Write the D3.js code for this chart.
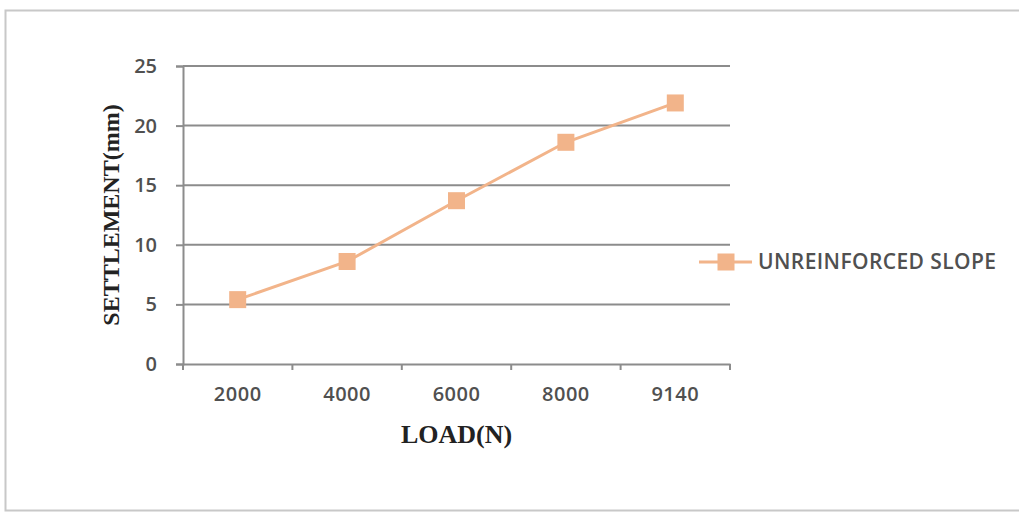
<!DOCTYPE html>
<html>
<head>
<meta charset="utf-8">
<script src="https://cdn.jsdelivr.net/npm/d3@7"></script>
<style>
  html, body { margin: 0; padding: 0; background: #fff; }
  svg { display: block; }
</style>
</head>
<body>
<svg id="chart" width="1019" height="513"></svg>
<script>
// Load steps (N) and measured settlement (mm)
const loads = ["2000", "4000", "6000", "8000", "9140"];
const settlement = [5.4, 8.6, 13.7, 18.6, 21.9];
const yTicks = [0, 5, 10, 15, 20, 25];
const seriesName = "UNREINFORCED SLOPE";

const svg = d3.select("#chart");
const W = 1019, H = 513;
const plot = { left: 183, right: 730, top: 66, bottom: 364 };
const lineColor = "#f2b48a";
const gridColor = "#8c8c8c";
const labelFont = "'Open Sans', 'Noto Sans', sans-serif";
const titleFont = "'Liberation Serif', 'DejaVu Serif', serif";

// outer frame
svg.append("rect")
  .attr("x", 5.5).attr("y", 10.5)
  .attr("width", W + 10).attr("height", H - 13)
  .attr("fill", "none").attr("stroke", "#c8c8c8").attr("stroke-width", 2);

const x = d3.scaleBand().domain(loads).range([plot.left, plot.right]).padding(0);
const y = d3.scaleLinear().domain([0, 25]).range([plot.bottom, plot.top]);

// horizontal gridlines
svg.append("g")
  .selectAll("line").data(yTicks.filter(d => d > 0)).join("line")
  .attr("x1", plot.left).attr("x2", plot.right)
  .attr("y1", d => y(d)).attr("y2", d => y(d))
  .attr("stroke", gridColor).attr("stroke-width", 2);

// y axis
const yAxis = svg.append("g")
  .attr("transform", `translate(${plot.left},0)`)
  .call(d3.axisLeft(y).tickValues(yTicks).tickSize(7).tickPadding(19));
yAxis.select(".domain").attr("stroke", gridColor).attr("stroke-width", 2);
yAxis.selectAll(".tick line").attr("stroke", gridColor).attr("stroke-width", 2);
yAxis.selectAll(".tick text")
  .attr("font-family", labelFont).attr("font-weight", 600)
  .attr("font-size", 20).attr("fill", "#505050");

// x axis with tick marks at band edges
const xAxis = svg.append("g")
  .attr("transform", `translate(0,${plot.bottom})`)
  .call(d3.axisBottom(x).tickSize(0).tickPadding(23));
xAxis.select(".domain").attr("stroke", gridColor).attr("stroke-width", 2);
xAxis.selectAll(".tick text")
  .attr("font-family", labelFont).attr("font-weight", 600)
  .attr("font-size", 20).attr("letter-spacing", 0.5).attr("fill", "#505050");
const edges = loads.map(d => x(d)).concat([x(loads[loads.length - 1]) + x.bandwidth()]);
xAxis.selectAll("line.edge").data(edges).join("line")
  .attr("class", "edge")
  .attr("x1", d => d).attr("x2", d => d)
  .attr("y1", 0).attr("y2", 6)
  .attr("stroke", gridColor).attr("stroke-width", 2);

// axis titles
svg.append("text")
  .attr("transform", `translate(119,${(plot.top + plot.bottom) / 2}) rotate(-90)`)
  .attr("text-anchor", "middle")
  .attr("font-family", titleFont)
  .attr("font-weight", "bold").attr("font-size", 24).attr("fill", "#222")
  .text("SETTLEMENT(mm)");

svg.append("text")
  .attr("x", (plot.left + plot.right) / 2).attr("y", 443)
  .attr("text-anchor", "middle")
  .attr("font-family", titleFont)
  .attr("font-weight", "bold").attr("font-size", 26).attr("fill", "#222")
  .text("LOAD(N)");

// series line and square markers
const pts = loads.map((d, i) => [x(d) + x.bandwidth() / 2, y(settlement[i])]);
svg.append("path")
  .attr("d", d3.line()(pts))
  .attr("fill", "none").attr("stroke", lineColor).attr("stroke-width", 3);

const ms = 17;
svg.append("g").selectAll("rect").data(pts).join("rect")
  .attr("x", d => d[0] - ms / 2).attr("y", d => d[1] - ms / 2)
  .attr("width", ms).attr("height", ms)
  .attr("fill", lineColor);

// legend
const lg = svg.append("g").attr("transform", "translate(699,262)");
lg.append("line").attr("x1", 0).attr("x2", 53).attr("y1", 0).attr("y2", 0)
  .attr("stroke", lineColor).attr("stroke-width", 3);
lg.append("rect").attr("x", 27 - 8.5).attr("y", -8.5).attr("width", 17).attr("height", 17)
  .attr("fill", lineColor);
lg.append("text").attr("x", 59).attr("y", 7)
  .attr("font-family", labelFont).attr("font-weight", 600)
  .attr("font-size", 21).attr("letter-spacing", 0.4).attr("fill", "#505050")
  .text(seriesName);
</script>
</body>
</html>
